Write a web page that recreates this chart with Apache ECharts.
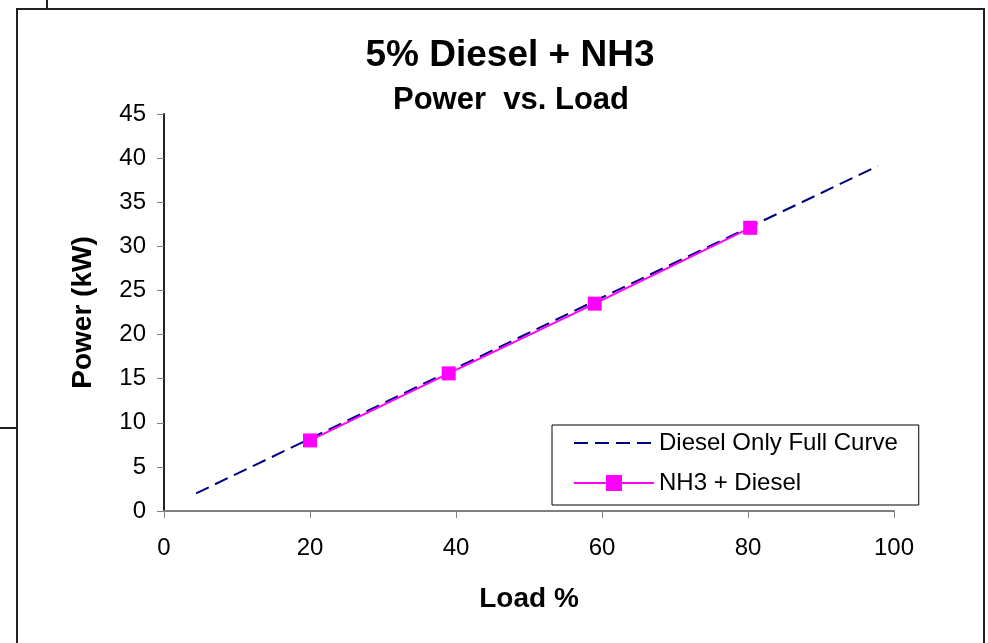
<!DOCTYPE html>
<html><head><meta charset="utf-8">
<script src="https://cdn.jsdelivr.net/npm/echarts@6/dist/echarts.min.js"></script>
<style>html,body{margin:0;padding:0;background:#fff}#c{width:988px;height:643px}</style>
</head><body><div id="c"></div>
<script>
const dieselLoad = [4.4, 20, 40, 60, 80, 97.8];
const dieselPower = [2.0, 8.2, 16.2, 24.2, 32.1, 39.1];
const nh3Load = [20, 39, 59, 80.3];
const nh3Power = [8.0, 15.6, 23.5, 32.1];
const xTicks = [0, 20, 40, 60, 80, 100];
const yTicks = [0, 5, 10, 15, 20, 25, 30, 35, 40, 45];

const chart = echarts.init(document.getElementById('c'));
const F = 'Liberation Sans, Arial, sans-serif';
chart.setOption({
  backgroundColor: '#fff',
  animation: false,
  title: [
    {text: '5% Diesel + NH3', left: 505, top: 32, textAlign: 'center',
     textStyle: {fontFamily: F, fontSize: 37, fontWeight: 'bold', color: '#000'}},
    {text: 'Power  vs. Load', left: 506, top: 80, textAlign: 'center',
     textStyle: {fontFamily: F, fontSize: 31, fontWeight: 'bold', color: '#000'}}
  ],
  grid: {left: 164, right: 94, top: 114, bottom: 132},
  xAxis: {
    type: 'value', min: xTicks[0], max: xTicks[xTicks.length - 1], interval: 20,
    name: 'Load %', nameLocation: 'middle', nameGap: 74,
    nameTextStyle: {fontFamily: F, fontSize: 28, fontWeight: 'bold', color: '#000'},
    axisLine: {onZero: false, lineStyle: {color: '#808080', width: 2}},
    axisTick: {show: true, inside: false, length: 7, lineStyle: {color: '#808080', width: 1}},
    axisLabel: {fontFamily: F, fontSize: 24, color: '#000', margin: 25},
    splitLine: {show: false}
  },
  yAxis: {
    type: 'value', min: yTicks[0], max: yTicks[yTicks.length - 1], interval: 5,
    name: 'Power (kW)', nameLocation: 'middle', nameGap: 67,
    nameTextStyle: {fontFamily: F, fontSize: 28, fontWeight: 'bold', color: '#000'},
    axisLine: {show: true, lineStyle: {color: '#222', width: 2}},
    axisTick: {show: true, inside: false, length: 7, lineStyle: {color: '#808080', width: 1}},
    axisLabel: {fontFamily: F, fontSize: 24, color: '#000', margin: 18},
    splitLine: {show: false}
  },
  legend: {
    left: 552, top: 425, orient: 'vertical', align: 'left',
    padding: [6, 21, 10, 21], itemGap: 16,
    borderColor: '#000', borderWidth: 1, backgroundColor: '#fff',
    itemWidth: 80, itemHeight: 20,
    textStyle: {fontFamily: F, fontSize: 24, lineHeight: 24, color: '#000'},
    data: [
      {name: 'Diesel Only Full Curve', itemStyle: {opacity: 0}, lineStyle: {color: '#000080', type: [14, 7], width: 2}},
      {name: 'NH3 + Diesel'}
    ]
  },
  series: [
    {name: 'Diesel Only Full Curve', type: 'line', showSymbol: false, symbol: 'none',
     data: dieselLoad.map((x, i) => [x, dieselPower[i]]),
     lineStyle: {color: '#000080', width: 2, type: [14, 7]}, itemStyle: {color: '#000080'}, z: 2},
    {name: 'NH3 + Diesel', type: 'line', symbol: 'rect', symbolSize: 14,
     data: nh3Load.map((x, i) => [x, nh3Power[i]]),
     lineStyle: {color: '#ff00ff', width: 2}, itemStyle: {color: '#ff00ff'}, z: 3}
  ],
  graphic: [
    {type: 'rect', shape: {x: 17, y: 9, width: 967, height: 660}, style: {fill: 'none', stroke: '#222', lineWidth: 2}, silent: true},
    {type: 'line', shape: {x1: 47, y1: 0, x2: 47, y2: 9}, style: {stroke: '#222', lineWidth: 2}},
    {type: 'line', shape: {x1: 0, y1: 428, x2: 17, y2: 428}, style: {stroke: '#222', lineWidth: 2}}
  ]
});
</script></body></html>
